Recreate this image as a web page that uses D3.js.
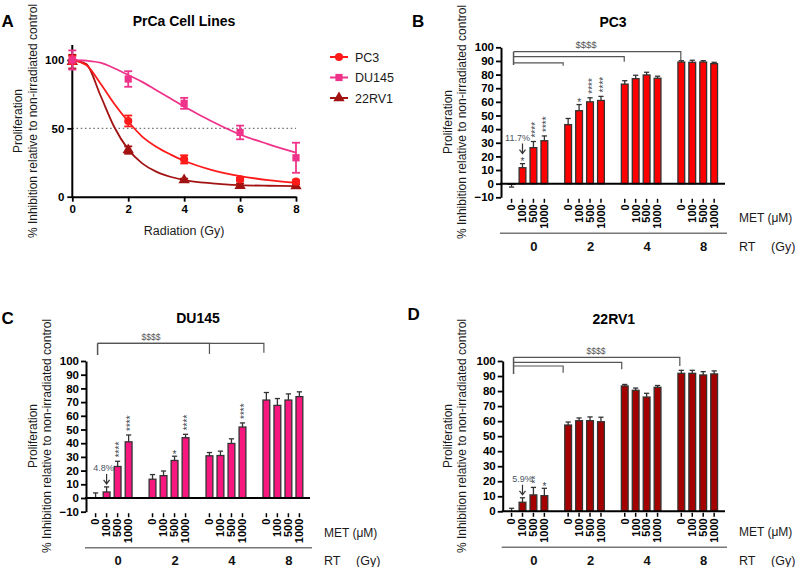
<!DOCTYPE html>
<html><head><meta charset="utf-8">
<script src="https://cdn.jsdelivr.net/npm/d3@7"></script>
<style>
body{margin:0;background:#fff}
svg{display:block}
text{font-family:"Liberation Sans",Arial,Helvetica,sans-serif}
</style>
</head><body>
<svg id="c" width="796" height="567"></svg>
<script>
// ---------------- DATA ----------------
// Panel A
const radiation = [0, 2, 4, 6, 8];
const pc3Mean   = [100, 55.4, 27.3, 12.7, 11.0];
const pc3Err    = [3, 4, 3, 1.2, 1];
const du145Mean = [100, 86.1, 68.3, 47.0, 28.5];
const du145Err  = [7, 5.7, 4, 5, 11];
const rv1Mean   = [98.8, 34.1, 12.2, 8.0, 7.8];
const rv1Err    = [5, 2.7, 1, 1.7, 1.5];
// fitted curves
const fitDose  = [0, 0.5, 1, 1.5, 2, 2.5, 3, 3.5, 4, 5, 6, 7, 8];
const pc3Fit   = [100, 96.3, 83, 68, 55, 44, 36.6, 31, 26.3, 19.5, 15.1, 12.2, 10.2];
const du145Fit = [100, 99.5, 98, 94, 89, 84, 78, 72, 66, 55, 45.5, 38.5, 32.2];
const rv1Fit   = [100, 97, 74.4, 51, 34.6, 24.4, 18.3, 14.6, 12.2, 9.8, 8.5, 8.0, 7.8];
const seriesNames = ["PC3", "DU145", "22RV1"];

// Panels B-D
const rtDoses  = ["0", "2", "4", "8"];
const metDoses = ["0", "100", "500", "1000"];
const pc3Bars = [[-0.5, 11.7, 26.4, 31.5], [43.3, 53.5, 60.0, 61.0], [73.0, 77.0, 79.7, 77.3], [89.2, 89.0, 89.2, 88.0]];
const pc3BarErr = [[2, 3, 4.5, 3.5], [4.5, 4.5, 3, 3], [2.5, 2.5, 2, 1.5], [1, 1.5, 1, 1]];
const du145Bars = [[0, 4.4, 23.0, 41.0], [13.7, 16.3, 27.4, 44.0], [30.8, 31.0, 39.8, 51.8], [71.5, 67.6, 71.5, 74.0]];
const du145BarErr = [[3.7, 3.7, 3.8, 5], [3.4, 3.4, 3.1, 2.5], [2.4, 3.2, 3.4, 3], [5.5, 5, 4.5, 3.5]];
const rv1Bars = [[0, 6.0, 10.9, 10.4], [57.4, 60.3, 60.3, 59.6], [83.4, 80.5, 76.0, 82.5], [91.8, 91.8, 90.7, 91.4]];
const rv1BarErr = [[2, 3, 5, 4.9], [2, 1.8, 2.5, 3], [1, 1.5, 2.5, 1.2], [2, 2, 2.2, 2]];
// significance marks [rt, met, mark]
const pc3Stars = [["0","100","*"],["0","500","****"],["0","1000","****"],["2","100","*"],["2","500","****"],["2","1000","****"]];
const du145Stars = [["0","500","****"],["0","1000","****"],["2","500","*"],["2","1000","****"],["4","1000","****"]];
const rv1Stars = [["0","500","**"],["0","1000","*"]];
// percentage callouts [rt, met, label]
const pc3Pct = ["0","100","11.7%"];
const du145Pct = ["0","100","4.8%"];
const rv1Pct = ["0","100","5.9%"];
// bracket targets (RT groups compared to 0 Gy)
const pc3Brackets = ["8","4","2"];
const du145Brackets = ["8","4"];
const rv1Brackets = ["8","4","2"];
const bracketMark = "$$$$";

// ---------------- DRAW ----------------
const svg = d3.select("#c");
const F = '"Liberation Sans",Arial,sans-serif';

function label(g, x, y, s, o = {}) {
  const t = g.append("text").attr("x", x).attr("y", y).text(s)
    .attr("font-size", o.size || 12)
    .attr("font-weight", o.bold ? "bold" : "normal")
    .attr("fill", o.fill || "#111")
    .attr("text-anchor", o.anchor || "start");
  if (o.rotate) t.attr("transform", `rotate(-90,${x},${y})`);
  if (o.dy) t.attr("dy", o.dy);
  return t;
}
function yTitle(g, cx, cy, x2) {
  label(g, cx, cy, "Proliferation", {size: 12, anchor: "middle", rotate: true, dy: "0.35em", fill: "#1a1a1a"});
  label(g, x2, cy, "% Inhibition relative to non-irradiated control", {size: 12, anchor: "middle", rotate: true, dy: "0.35em", fill: "#1a1a1a"});
}

// ===== Panel A =====
(function () {
  const g = svg.append("g");
  const x = d3.scaleLinear().domain([0, 8]).range([72.3, 296]);
  const y = d3.scaleLinear().domain([0, 100]).range([196.7, 60]);
  const colors = ["#ff1a1a", "#f0338a", "#a31212"];
  const symbols = [d3.symbolCircle, d3.symbolSquare, d3.symbolTriangle];
  const sizes = [52, 52, 56];

  label(g, 1.5, 26.5, "A", {size: 17, bold: true, fill: "#000"});
  label(g, 184, 26, "PrCa Cell Lines", {size: 14, bold: true, anchor: "middle", fill: "#000"});

  // dotted 50% line
  g.append("line").attr("x1", x(0)).attr("x2", x(8)).attr("y1", y(50)).attr("y2", y(50))
    .attr("stroke", "#777").attr("stroke-width", 1.3).attr("stroke-dasharray", "1.6,2.6");

  // axes
  const xa = g.append("g").attr("transform", `translate(0,${y(0)})`)
    .call(d3.axisBottom(x).tickValues(radiation).tickSize(5).tickSizeOuter(0).tickPadding(3));
  const ya = g.append("g").attr("transform", `translate(${x(0)},0)`)
    .call(d3.axisLeft(y).tickValues([0, 50, 100]).tickSize(5).tickSizeOuter(0).tickPadding(3));
  ya.select(".domain").remove();
  g.append("line").attr("x1", x(0)).attr("x2", x(0)).attr("y1", y(0) + 1).attr("y2", y(111))
    .attr("stroke", "#000").attr("stroke-width", 2);
  [xa, ya].forEach(a => {
    a.selectAll(".domain").attr("stroke-width", 2);
    a.selectAll(".tick line").attr("stroke-width", 1.8);
    a.selectAll("text").attr("font-size", 11.5).attr("font-weight", "bold").attr("font-family", F).attr("fill", "#000");
  });
  label(g, 184, 234.5, "Radiation (Gy)", {size: 12.5, anchor: "middle", fill: "#1a1a1a"});
  yTitle(g, 18, 121, 33);

  const means = [pc3Mean, du145Mean, rv1Mean];
  const errs = [pc3Err, du145Err, rv1Err];
  const fits = [pc3Fit, du145Fit, rv1Fit];
  const line = d3.line().x(d => x(d[0])).y(d => y(d[1])).curve(d3.curveMonotoneX);

  [2, 0, 1].forEach(i => {
    g.append("path").attr("d", line(fitDose.map((d, k) => [d, fits[i][k]])))
      .attr("fill", "none").attr("stroke", colors[i]).attr("stroke-width", 1.8);
  });
  [2, 0, 1].forEach(i => {
    const c = colors[i];
    radiation.forEach((r, k) => {
      const m = means[i][k], e = errs[i][k];
      const cx = x(r);
      g.append("line").attr("x1", cx).attr("x2", cx).attr("y1", y(m - e)).attr("y2", y(m + e))
        .attr("stroke", c).attr("stroke-width", 1.8);
      [m - e, m + e].forEach(v => g.append("line").attr("x1", cx - 4).attr("x2", cx + 4)
        .attr("y1", y(v)).attr("y2", y(v)).attr("stroke", c).attr("stroke-width", 1.8));
      g.append("path").attr("d", d3.symbol(symbols[i], sizes[i])())
        .attr("transform", `translate(${cx},${y(m)})`).attr("fill", c);
    });
  });

  // legend
  const ly = [57, 77.5, 98];
  seriesNames.forEach((n, i) => {
    g.append("line").attr("x1", 330).attr("x2", 348).attr("y1", ly[i]).attr("y2", ly[i])
      .attr("stroke", colors[i]).attr("stroke-width", 2);
    g.append("path").attr("d", d3.symbol(symbols[i], sizes[i])())
      .attr("transform", `translate(339,${ly[i]})`).attr("fill", colors[i]);
    label(g, 355, ly[i] + 4.5, n, {size: 12.5, fill: "#1a1a1a"});
  });
})();

// ===== Bar panels =====
function barPanel(cfg) {
  const g = svg.append("g");
  const y = d3.scaleLinear().domain([cfg.yMin, 100]).range([cfg.yBottom, cfg.yTop]);
  const gx = d3.scaleBand().domain(rtDoses).range(cfg.barRange).paddingInner(0.153).paddingOuter(0);
  const ix = d3.scaleBand().domain(metDoses).range([0, gx.bandwidth()]).padding(0.38);
  const bx = (rt, met) => gx(rt) + ix(met) + ix.bandwidth() / 2;
  const bottom = y(cfg.yMin);

  label(g, cfg.letter[1], cfg.letter[2], cfg.letter[0], {size: 17, bold: true, fill: "#000"});
  label(g, (cfg.axisX + cfg.xEnd) / 2, cfg.titleY, cfg.title, {size: 14, bold: true, anchor: "middle", fill: "#000"});
  yTitle(g, cfg.yl[0], cfg.yl[2], cfg.yl[1]);

  // y axis
  const ya = g.append("g").attr("transform", `translate(${cfg.axisX},0)`)
    .call(d3.axisLeft(y).tickValues(d3.range(cfg.yMin, 101, 10)).tickSize(5).tickSizeOuter(0).tickPadding(2));
  ya.select(".domain").attr("stroke-width", 2);
  ya.selectAll(".tick line").attr("stroke-width", 1.8);
  ya.selectAll("text").attr("font-size", 11.5).attr("font-weight", "bold").attr("font-family", F).attr("fill", "#000");

  // bars
  rtDoses.forEach((rt, gi) => metDoses.forEach((met, mi) => {
    const v = cfg.values[gi][mi], e = cfg.errs[gi][mi];
    const x0 = gx(rt) + ix(met), w = ix.bandwidth(), cx = x0 + w / 2;
    g.append("rect").attr("x", x0).attr("width", w)
      .attr("y", y(Math.max(0, v))).attr("height", Math.abs(y(v) - y(0)))
      .attr("fill", cfg.color).attr("stroke", "#333").attr("stroke-width", 1.3);
    const ve = v < 0 ? v - e : v + e;
    g.append("line").attr("x1", cx).attr("x2", cx).attr("y1", y(v)).attr("y2", y(ve))
      .attr("stroke", "#333").attr("stroke-width", 1.3);
    g.append("line").attr("x1", cx - 2.6).attr("x2", cx + 2.6).attr("y1", y(ve)).attr("y2", y(ve))
      .attr("stroke", "#333").attr("stroke-width", 1.3);
    // category tick
    g.append("line").attr("x1", cx).attr("x2", cx).attr("y1", bottom + 1.5).attr("y2", bottom + 5.5)
      .attr("stroke", "#000").attr("stroke-width", 1.5);
    label(g, cx, bottom + 7, met, {size: 11, bold: true, anchor: "end", rotate: true, dy: "0.35em", fill: "#000"});
  }));

  // zero line
  g.append("line").attr("x1", cfg.axisX - 1).attr("x2", cfg.xEnd).attr("y1", y(0)).attr("y2", y(0))
    .attr("stroke", "#000").attr("stroke-width", 2);

  const errTop = (rt, met) => {
    const gi = rtDoses.indexOf(rt), mi = metDoses.indexOf(met);
    return y(cfg.values[gi][mi] + cfg.errs[gi][mi]);
  };
  // stars
  const sc = "#3d4650";
  cfg.stars.forEach(([rt, met, s]) => {
    const cx = bx(rt, met), t = errTop(rt, met);
    if (s.length === 1) {
      label(g, cx, t - 3 + 0.43 * 10, s, {size: 10, anchor: "middle", fill: sc});
    } else {
      label(g, cx, t - 4, s, {size: 10, anchor: "start", rotate: true, dy: "0.58em", fill: sc});
    }
  });
  // percent callout
  {
    const [rt, met, s] = cfg.pct;
    const cx = bx(rt, met);
    const hasStar = cfg.stars.some(d => d[0] === rt && d[1] === met);
    const base = errTop(rt, met) - (hasStar ? 7 : 0);
    g.append("path").attr("d", `M${cx},${base - 13}V${base - 3}M${cx - 3},${base - 7}L${cx},${base - 3}L${cx + 3},${base - 7}`)
      .attr("fill", "none").attr("stroke", "#333").attr("stroke-width", 1.2);
    label(g, cx + cfg.pctDx, base - 16, s, {size: 9, anchor: "middle", fill: "#4a5663"});
  }
  // brackets
  const lx = bx("0", "0") + 2;
  cfg.brackets.forEach((rt, i) => {
    const by = cfg.bY[i], rx = bx(rt, "0") - cfg.bShift[i];
    g.append("path").attr("d", `M${lx},${by}H${rx}V${by + cfg.bDrop[i]}`)
      .attr("fill", "none").attr("stroke", "#555").attr("stroke-width", 1.2);
  });
  g.append("line").attr("x1", lx).attr("x2", lx).attr("y1", cfg.bY[0]).attr("y2", cfg.bLeftEnd)
    .attr("stroke", "#555").attr("stroke-width", 1.5);
  label(g, cfg.markX, cfg.bY[0] - 3.5, bracketMark, {size: cfg.markSize, anchor: "middle", fill: "#555"});

  // MET / RT rows
  label(g, cfg.xEnd + 14, bottom + 25, "MET (\u03bcM)", {size: 12, fill: "#1a1a1a"});
  g.append("line").attr("x1", cfg.axisX - 1).attr("x2", cfg.xEnd + 2).attr("y1", bottom + 36).attr("y2", bottom + 36)
    .attr("stroke", "#777").attr("stroke-width", 1.5);
  rtDoses.forEach(rt => label(g, gx(rt) + gx.bandwidth() / 2 + 6, bottom + 53.5, rt, {size: 13, bold: true, anchor: "middle", fill: "#111"}));
  label(g, cfg.xEnd + 14, bottom + 53.5, "RT", {size: 12.5, fill: "#1a1a1a"});
  label(g, cfg.xEnd + 46, bottom + 53.5, "(Gy)", {size: 12.5, fill: "#1a1a1a"});
}

barPanel({
  letter: ["B", 412, 26.5], title: "PC3", titleY: 27,
  axisX: 501, xEnd: 725, yMin: -10, yBottom: 197.3, yTop: 47.3, barRange: [504, 721.7],
  yl: [448, 461.7, 122],
  values: pc3Bars, errs: pc3BarErr, color: "#ff0000", stars: pc3Stars, pct: pc3Pct, pctDx: -5,
  brackets: pc3Brackets, bY: [51.7, 56.7, 62.8], bDrop: [9, 5, 3], bShift: [0.5, 0.5, 5], bLeftEnd: 65,
  markX: 586, markSize: 9.5
});
barPanel({
  letter: ["C", 1.5, 323.5], title: "DU145", titleY: 323,
  axisX: 86, xEnd: 310, yMin: -10, yBottom: 511.7, yTop: 361, barRange: [88, 307],
  yl: [33, 47, 436],
  values: du145Bars, errs: du145BarErr, color: "#f7177f", stars: du145Stars, pct: du145Pct, pctDx: -3,
  brackets: du145Brackets, bY: [343.3, 343.3], bDrop: [9.5, 10.7], bShift: [2.5, 0], bLeftEnd: 355,
  markX: 151, markSize: 8.5
});
barPanel({
  letter: ["D", 407.5, 319.5], title: "22RV1", titleY: 324,
  axisX: 502.7, xEnd: 725, yMin: 0, yBottom: 511.3, yTop: 361, barRange: [504, 721.7],
  yl: [448.3, 461.7, 436],
  values: rv1Bars, errs: rv1BarErr, color: "#a50000", stars: rv1Stars, pct: rv1Pct, pctDx: 0,
  brackets: rv1Brackets, bY: [357.3, 362.3, 366], bDrop: [8.7, 7, 6.7], bShift: [1.5, 3, 5], bLeftEnd: 374,
  markX: 596, markSize: 8.5
});
</script>
</body></html>
